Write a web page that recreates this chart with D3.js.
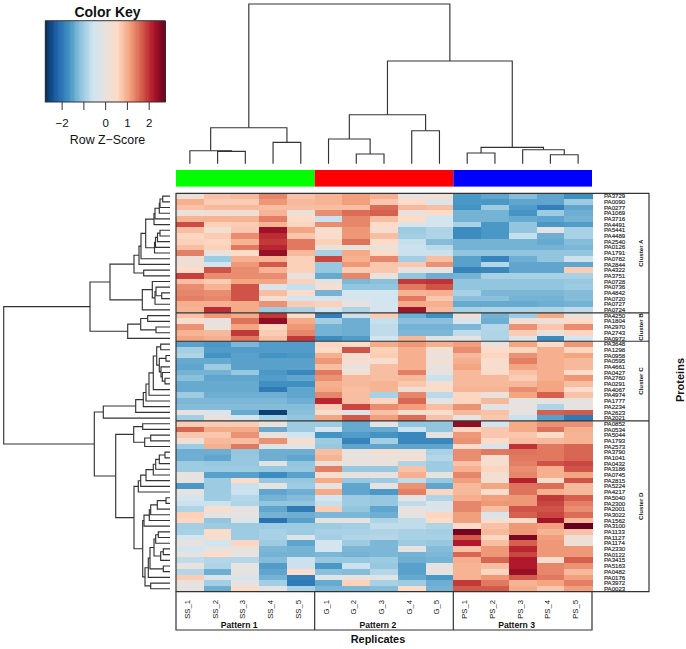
<!DOCTYPE html>
<html>
<head>
<meta charset="utf-8">
<script src="https://cdn.jsdelivr.net/npm/d3@7"></script>
<style>
  html, body { margin: 0; padding: 0; background: #fff; }
  svg { display: block; }
  text { font-family: "Liberation Sans", Arial, sans-serif; fill: #111; }
</style>
</head>
<body>
<div id="chart"></div>
<script>
// column labels and groups
const replicates = ['SS_1','SS_2','SS_3','SS_4','SS_5','G_1','G_2','G_3','G_4','G_5','PS_1','PS_2','PS_3','PS_4','PS_5'];
const patterns = ['Pattern 1', 'Pattern 2', 'Pattern 3'];
const patternColors = ['#00ff00', '#ff0000', '#0000ff'];

// protein labels per cluster
const proteinsA = ['PA3729','PA0090','PA0277','PA1069','PA3716','PA4491','PA5441','PA4489','PA2540','PA0126','PA1791','PA0782','PA2844','PA4322','PA3751','PA0728','PA0736','PA4842','PA0720','PA0727','PA0724'];
const proteinsB = ['PA4250','PA1804','PA2970','PA2743','PA0972'];
const proteinsC = ['PA3648','PA1298','PA0958','PA0595','PA4661','PA0427','PA2760','PA0291','PA4067','PA4974','PA1777','PA2234','PA2623','PA2021'];
const proteinsD = ['PA0852','PA0534','PA5044','PA1793','PA2573','PA3790','PA1041','PA0432','PA3186','PA0745','PA2815','PA5224','PA4217','PA5040','PA2300','PA2001','PA3022','PA1562','PA3100','PA1133','PA1127','PA1174','PA2330','PA0122','PA3415','PA5163','PA0482','PA0176','PA3972','PA0023'];
const clusterNames = ['Cluster A', 'Cluster B', 'Cluster C', 'Cluster D'];

// row z-scores
const valuesA = [
  [.2,.8,.9,1.35,.8,.95,1.15,1,0,.3,-1.6,-1.45,-1.2,-1.45,-1.7],
  [1,.7,.7,1.2,.9,.95,1.15,.75,.55,-.3,-1.6,-1.6,-1.45,-1.45,-1],
  [.8,.9,.9,.85,.85,.85,.85,1.55,.9,.85,-1.65,-1,-1.55,-1.9,-1.45],
  [.1,.2,.2,.95,.15,1.3,1.55,1.65,.05,.45,-1.3,-1.3,-1.65,-1,-1.35],
  [.95,.95,.95,1.4,.55,-.6,1.35,.85,.5,-.5,-1.3,-1.3,-1.4,-1.45,-1.3],
  [1.8,.65,.7,.95,.6,1.3,1.35,.55,-.35,-.45,-.9,-1.6,-1.1,-1.6,-1.55],
  [.85,.3,.75,2.35,1.1,.4,1.2,.35,-1,-.85,-1.75,-1.6,-1.1,-.1,-.9],
  [.6,.7,1.3,2.05,.75,.45,1.2,.85,-.95,-.85,-1.75,-1.6,-.65,-1.35,-.9],
  [.65,.6,.95,1.95,1.45,.65,1.5,.55,-.65,-1.2,-1.3,-1.3,-1.3,-1.4,-1.2],
  [.85,.65,1.45,2.1,1.45,.1,.1,.1,-.6,-.75,-1.3,-1.3,-1.3,-1.3,-1.25],
  [1.4,.05,.5,2.4,.9,-.9,1.05,.5,-.6,-.6,-1.1,-1.1,-1.1,-1.1,-1.1],
  [.2,-1,1,.95,.65,1.85,1,1.35,-.95,.85,-1.5,-1.85,-1.35,-1.1,-.6],
  [.2,-.55,1.2,1.7,.65,-1.05,1.2,.75,.75,1.25,-1.5,-.8,-1.45,-1.45,-1.45],
  [.5,1.75,1.3,.95,.65,-1.05,.7,.75,.05,.05,-1.85,-1.8,-1.45,-1.45,.7],
  [1.9,1.3,1.3,1.3,.05,-1.4,1.35,.1,-1.1,-1.35,-1.3,-.9,-.9,-.9,-.9],
  [.85,.7,1.1,1.1,.65,-.05,-1.25,-1.15,1.95,2,-1.1,-1.1,-1.1,-1.1,-1.05],
  [1.3,.95,1.75,-.25,-.65,.35,-1.1,-1.1,1.45,1.75,-1.1,-1.1,-1.1,-1.1,-1],
  [1.35,1.3,1.75,.85,.45,-1.3,-.5,-.5,.95,1,-.9,-1.25,-1.25,-1.25,-1.2],
  [1.4,1.35,1.75,.35,-.45,-.45,-.45,-.5,1.45,.75,-1.15,-1.15,-1.3,-1.3,-1.2],
  [1,1,1.05,1.25,.7,.65,.05,-.5,1.05,1,-1.4,-1.4,-1.4,-1.35,-1.3],
  [.95,2.05,1.05,-1,-.9,-.5,-.85,-.45,2.3,.9,-.9,-.85,-.85,-.85,-.7]
];
const valuesB = [
  [.8,1.2,1.05,1.95,.5,-1.9,-.6,.7,-1.35,-1.7,.2,-1.3,-1,1.05,.1],
  [.4,.05,1.5,2.45,1.05,-.95,-1.35,-.65,-1.15,-1.15,-.4,-1.35,.25,.2,.55],
  [1.25,.1,1.1,.6,1.2,-1.3,-1.35,-.7,-1.3,-1.3,-1.25,-.8,1.25,.75,1.3],
  [.95,.9,1.95,.7,1.35,-1.3,-1.35,-.7,-1.25,-1.25,-.7,-.85,.7,.1,.6],
  [1.1,1,1.45,.85,1.95,-1.75,-1.55,-.55,.9,-.2,-.1,-.85,-.2,-1.75,-.5]
];
const valuesC = [
  [-1.5,-1.6,-1.25,-1.55,-1.55,.6,.5,1.05,1.2,1,1.15,.05,1.1,.55,1.2],
  [-.95,-1.55,-1.55,-1.55,-1.55,.55,1.75,.65,1,.3,1.3,.55,.6,1,.6],
  [-.85,-1.65,-1.5,-1.65,-1.6,1,.35,.7,1,.05,.9,.6,1.25,1,1.1],
  [-1.4,-1.4,-1.5,-1.5,-1.5,1.2,.35,.4,1,.25,1,.4,1.4,1,.9],
  [-1.45,-1,-1.5,-1.5,-1.5,.85,.05,.85,1,.05,1.1,.4,1.1,1,.9],
  [-1.3,-1.3,-1.05,-1.6,-1.8,1.45,.3,.85,1.4,.05,.9,.5,.8,1,.5],
  [-1.15,-1.45,-1.45,-1.55,-1.45,1.25,.9,.85,.9,-.6,.9,.9,.7,1,1.2],
  [-1.4,-1.4,-1.4,-1.7,-1.7,1,.9,.95,.75,.4,.9,.9,.9,1.1,.85],
  [-1.4,-1.4,-1.4,-1.95,-1.45,1.05,.85,.95,.2,.5,.95,.95,1.3,1.1,.45],
  [-1,-1.35,-1.35,-1.35,-1.45,1.35,.85,-.9,1.35,-.75,.6,.1,1.1,1.65,.8],
  [-1.25,-1.25,-1.25,-1.25,-1.35,2.1,.85,.6,1.6,-.1,.6,.9,0,0,0],
  [-1.2,-1.2,-1.2,-1.2,-1.2,.7,1.85,1.3,1.15,.85,1.25,-.05,0,-.85,0],
  [0,-.3,-1.4,-2.6,-1.15,.35,-.3,.8,.35,.4,.9,.8,0,1.65,1.7],
  [-.95,.05,-.5,-.9,-1.1,1.1,1.7,1.15,1.55,.8,0,.75,-.6,-1.5,-1.95]
];
const valuesD = [
  [.7,.7,.7,.15,-1,-1,-1.4,-.1,-1.1,-1.1,2.45,-.55,1.05,1.25,1.25],
  [1.6,1.05,1.05,-1.4,-1,-.45,-1.4,-1.4,-.6,-1.1,.6,.75,1.05,1.5,1],
  [.75,.75,1.25,.1,-.55,-1.65,-1.55,-1.65,-1.8,-.05,1.2,.75,.75,.55,.95],
  [.2,.9,.85,1.25,.4,-1,-1.85,-.95,-1.8,-1.8,1.25,.55,.85,.9,.95],
  [-1,1,1.45,-.2,-.1,-1.05,-1.45,-1.45,-1.45,-1.45,.45,-.45,2,1.45,1.6],
  [-1.35,-1.35,-1.1,-1.35,-1.35,.85,.05,.3,.1,-.9,1.3,1.45,1.5,1.45,1.6],
  [-1.35,-1.45,-1.05,-1.35,-1.45,.95,.05,.1,.3,-.8,1.3,.35,1.45,1.45,1.6],
  [-1,-1.05,-1.05,-.2,-1.1,.2,.05,.1,-.85,-1,.8,.4,1.4,1.75,1.85],
  [-1,-1,-1,-1.05,-1.05,1.4,-1.05,-1.05,.8,-1,1,.6,1.3,1,1.75],
  [0,-1.5,-1.5,-1.75,-1.5,.5,0,0,1,0,1.35,.3,1.35,1,1.1],
  [0,-1,.5,-1.05,-1.05,1.05,-1.05,-1,-.7,-1.05,1.15,.3,2.15,.4,1.75],
  [-1.6,-1,-.6,0,-1,0,-1.45,0,1.25,-1.45,.9,1.1,1.5,1.55,.9],
  [0,-1,-.6,-1.45,-1.35,1.05,-1.45,-1.6,1.4,.6,.9,.45,1.5,1,.9],
  [-.45,-1,-.8,-1.3,-1.2,-.5,-1,-1.05,-.1,-.85,1,1.15,1.2,1.95,1.65],
  [-.6,-.6,-.85,-1.1,-1.1,-.65,-1,-1.05,-.7,-.35,1.35,1.2,1.2,1.85,1.4],
  [-.85,.4,0,-1.45,-1.95,.7,-1.1,-1.45,0,-.3,1.35,.85,1.75,1.75,1.3],
  [.65,0,0,-1.3,-1.35,-1.25,-1.25,-1.35,0,.6,1.15,-.3,1.65,1.85,1.55],
  [.6,-1.1,-.3,-2.05,-1.5,0,0,-.85,-.7,.55,1.15,.4,.5,2.3,.9],
  [-.95,-1,-1,-1,-1,-1,-.95,-.7,-.7,-.85,.5,.8,1.2,1.15,2.75],
  [-.9,.5,-1,-.9,-1,-.9,-.9,-.85,-.9,-.95,2.65,.9,1.2,.95,.8],
  [-.5,.4,-1,-.9,-.3,-.95,-.85,-.8,-.9,-.9,1.7,.6,2.6,1.15,.2],
  [.05,-.55,.6,-1,-1.45,-.5,-1,-1.25,-1,-1.05,2.2,.85,1.65,1.2,.2],
  [-.5,.05,.1,-1.25,-1.3,-.5,-1.25,-1.25,0,-1.2,.8,1.2,2.1,1.2,1.2],
  [0,.55,0,-1.3,-1.3,-1.25,-1.3,-1.25,-1.3,-1.25,1.6,1.2,1.85,1.2,1.2],
  [-.7,-.8,-.8,-1.2,-.6,-1.05,-1.05,-1,-1.35,-1.3,1,1.6,2.2,.4,1.65],
  [.05,-.85,0,-1.55,-.6,-1.6,-.6,-1.05,-1.5,0,.95,.85,2.2,1.35,1.25],
  [-.8,-1.35,0,-1.45,.45,-1.15,-1.2,-.8,-1.5,0,.95,.6,2.4,1.35,.9],
  [.7,-.35,-.4,-1.3,-1.9,-.2,.05,-.2,-1.4,-1.6,.95,1.2,1.7,1.45,1.15],
  [.05,-.95,-.1,-.95,-1.95,-1.4,.65,-.9,-1,-1.35,1.95,1.45,.95,1.1,1.4],
  [0,-1.35,.5,-.1,-.9,-1.25,-1.25,-1.2,.55,-1.3,1.7,1.7,1.05,.75,1.15]
];

// dendrograms as nested [height, left, right], a plain number is a leaf index
const colTree = [159.7,
  [36, [13, 0, [12.3, 1, 2]], [21.3, 3, 4]],
  [102.7,
    [49, [24.7, 5, [9.7, 6, 7]], [33, 8, 9]],
    [16.3, [10.7, 10, 11], [14, 12, [9, 13, 14]]]]];

const treeA1 = [36,
  [31, [29, [24.3,
    [16, [15, [10.7, [10, [7.3, 0, 1], 2], 3], 4], 5],
    [15.5, [14.5, [12.5, [10, 6, 7], 8], 9], 10]], 11], 12],
  [26.3, 13, 14]];
const treeA2 = [27.7, [17.7, 15, [15, [14, 16, [8.3, 17, 18]], 19]], 20];
const treeB = [42.3, [29.3, [22.3, 21, 22], [14, 23, 24]], 25];
const treeC = [66.7, [34.3, [26.7, [24, [21, [16.7, [13.3, [9.3, 26, 27],
  [10.7, [4, 28, 29], [9, 30, [7.7, 31, [5, 32, 33]]]]], 34], 35], 36], 37], 38], 39];
const treeD1 = [36.3, [27.3, 40, 41], [25.3, [19.3, 42, 43], 44]];
const treeD2 = [36,
  [31.7, [29.3, [24, [16.7, [14.3, [10.7, [5, 45, 46], 47], 48], 49], 50], 51], 52],
  [27.3,
    [26, [20.7, [19.3, [12.7, [4, 53, 54], 55], 56], 57], 58],
    [25, [21.7, [20, [16, [14.3, [11.7, 59, 60], 61], [9.3, [6.7, 62, 63], 64]], [6.7, 65, 66]], 67], [19.3, 68, 69]]]];
const rowTree = [166.3,
  [80, [60, treeA1, treeA2], treeB],
  [75.7, treeC, [54.3, treeD1, treeD2]]];

// colour key
const keyTicks = [-2, -1, 0, 1, 2];
const colorStops = [-2.75, -2.2, -1.65, -1.1, -.55, 0, .55, 1.1, 1.65, 2.2, 2.75];
const colorRange = ['#053061','#2166ac','#4393c3','#92c5de','#d1e5f0','#e6e2df','#fddbc7','#f4a582','#d6604d','#b2182b','#67001f'];

const proteins = [...proteinsA, ...proteinsB, ...proteinsC, ...proteinsD];
const matrix = [...valuesA, ...valuesB, ...valuesC, ...valuesD];
const clusterSizes = [proteinsA, proteinsB, proteinsC, proteinsD].map(d => d.length);

const chartWidth = 686, chartHeight = 649;
const hmLeft = 176, hmRight = 592, hmTop = 193.3, hmBottom = 591.6, boxRight = 649, boxBottom = 630;
const lineColor = '#333';

const svg = d3.select('#chart').append('svg')
  .attr('width', chartWidth)
  .attr('height', chartHeight);

const x = d3.scaleBand().domain(d3.range(replicates.length)).range([hmLeft, hmRight]);
const y = d3.scaleBand().domain(d3.range(proteins.length)).range([hmTop, hmBottom]);
const color = d3.scaleLinear().domain(colorStops).range(colorRange).clamp(true);

// heat cells
const rows = svg.append('g').attr('shape-rendering', 'crispEdges')
  .selectAll('g').data(matrix).enter().append('g');
rows.selectAll('rect')
  .data((d, i) => d.map((v, j) => ({ v, i, j })))
  .enter().append('rect')
  .attr('x', d => x(d.j))
  .attr('y', d => y(d.i))
  .attr('width', x.bandwidth() + .5)
  .attr('height', y.bandwidth() + .5)
  .attr('fill', d => color(d.v));

// side colour bar
const barGroups = d3.range(patterns.length);
svg.append('g').selectAll('rect').data(barGroups).enter().append('rect')
  .attr('x', d => x(d * 5))
  .attr('y', 170)
  .attr('width', x.bandwidth() * 5)
  .attr('height', 16.6)
  .attr('fill', d => patternColors[d]);

// draw a dendrogram, leafPos gives the leaf position, hScale maps merge height
function drawTree(tree, leafPos, hScale, horizontal) {
  const root = d3.hierarchy(tree, d => Array.isArray(d) ? d.slice(1) : null);
  root.eachAfter(n => {
    n.pos = n.children ? d3.mean(n.children, c => c.pos) : leafPos(n.data);
    n.h = n.children ? n.data[0] : 0;
  });
  const g = svg.append('g');
  g.selectAll('path')
    .data(root.descendants().filter(n => n.children))
    .enter().append('path')
    .attr('fill', 'none')
    .attr('stroke', lineColor)
    .attr('stroke-width', 1.15)
    .attr('d', n => {
      const [a, b] = n.children;
      return horizontal
        ? `M${hScale(a.h)},${a.pos}H${hScale(n.h)}V${b.pos}H${hScale(b.h)}`
        : `M${a.pos},${hScale(a.h)}V${hScale(n.h)}H${b.pos}V${hScale(b.h)}`;
    });
}

drawTree(colTree, i => x(i) + x.bandwidth() / 2,
  d3.scaleLinear().domain([0, 160]).range([163.7, 3.7]), false);
drawTree(rowTree, i => y(i) + y.bandwidth() / 2,
  d3.scaleLinear().domain([0, 170]).range([170, 0]), true);

// protein labels
svg.append('g').attr('opacity', .99).selectAll('text').data(proteins).enter().append('text')
  .attr('x', 604)
  .attr('y', (d, i) => y(i) + y.bandwidth() / 2)
  .attr('dy', '.35em')
  .style('font-size', '6.1px')
  .style('stroke', '#333')
  .style('stroke-width', .15)
  .text(d => d);

// cluster boxes and labels
const frame = svg.append('g').attr('stroke', lineColor).attr('stroke-width', 1.2).attr('fill', 'none');
frame.append('path').attr('d', `M${hmLeft},${hmTop}H${boxRight}V${hmBottom}H${hmLeft}Z`);

const clusterText = svg.append('g').attr('opacity', .99);
let start = 0;
clusterSizes.forEach((n, k) => {
  const y0 = y(start);
  const y1 = start + n < proteins.length ? y(start + n) : hmBottom;
  if (k > 0) frame.append('line').attr('x1', hmLeft).attr('x2', boxRight).attr('y1', y0).attr('y2', y0);
  clusterText.append('text')
    .attr('transform', `translate(642.8,${(y0 + y1) / 2}) rotate(-90)`)
    .attr('text-anchor', 'middle')
    .style('font-size', '6.2px')
    .style('font-weight', 'bold')
    .text(clusterNames[k]);
  start += n;
});

// replicate boxes and labels
frame.append('path').attr('d', `M${hmLeft},${hmBottom}V${boxBottom}H${hmRight}V${hmBottom}`);
[5, 10].forEach(c => {
  frame.append('line').attr('x1', x(c)).attr('x2', x(c)).attr('y1', hmBottom).attr('y2', boxBottom);
});

svg.append('g').attr('opacity', .99).selectAll('text').data(replicates).enter().append('text')
  .attr('transform', (d, i) => `translate(${x(i) + x.bandwidth() / 2},600) rotate(-90)`)
  .attr('text-anchor', 'end')
  .style('font-size', '7.7px')
  .text(d => d);

svg.append('g').selectAll('text').data(patterns).enter().append('text')
  .attr('x', (d, i) => x(i * 5) + x.bandwidth() * 2.28)
  .attr('y', 627.7)
  .attr('text-anchor', 'middle')
  .style('font-size', '8.6px')
  .style('font-weight', 'bold')
  .text(d => d);

// axis titles
svg.append('text')
  .attr('x', 378)
  .attr('y', 643)
  .attr('text-anchor', 'middle')
  .style('font-size', '10.9px')
  .style('font-weight', 'bold')
  .text('Replicates');

svg.append('text')
  .attr('opacity', .99)
  .attr('transform', 'translate(684,380) rotate(-90)')
  .attr('text-anchor', 'middle')
  .style('font-size', '11px')
  .style('font-weight', 'bold')
  .text('Proteins');

// colour key
const keyLeft = 45.3, keyRight = 165, keyTop = 20.7, keyBottom = 102;
const keyX = d3.scaleLinear().domain([-2.75, 2.75]).range([keyLeft, keyRight]);
const keyStep = 5.5 / 96;
svg.append('g').attr('shape-rendering', 'crispEdges')
  .selectAll('rect').data(d3.range(96)).enter().append('rect')
  .attr('x', d => keyX(-2.75 + d * keyStep))
  .attr('y', keyTop)
  .attr('width', keyX(keyStep) - keyX(0) + .5)
  .attr('height', keyBottom - keyTop)
  .attr('fill', d => color(-2.75 + (d + .5) * keyStep));
svg.append('rect')
  .attr('x', keyLeft).attr('y', keyTop)
  .attr('width', keyRight - keyLeft).attr('height', keyBottom - keyTop)
  .attr('fill', 'none').attr('stroke', lineColor).attr('stroke-width', 1);

const keyAxis = svg.append('g')
  .attr('transform', `translate(0,${keyBottom})`)
  .call(d3.axisBottom(keyX)
    .tickValues(keyTicks)
    .tickSize(8)
    .tickPadding(9)
    .tickFormat(d => d === -1 ? '' : d3.format('d')(d)));
keyAxis.select('.domain').remove();
keyAxis.selectAll('line').attr('stroke', lineColor);
keyAxis.selectAll('text')
  .style('font-size', '11.5px')
  .style('font-family', '"Liberation Sans", Arial, sans-serif')
  .attr('fill', '#111');

svg.append('text')
  .attr('x', 107.5)
  .attr('y', 17.3)
  .attr('text-anchor', 'middle')
  .style('font-size', '14px')
  .style('font-weight', 'bold')
  .text('Color Key');

svg.append('text')
  .attr('x', 107.5)
  .attr('y', 143.5)
  .attr('text-anchor', 'middle')
  .style('font-size', '12.4px')
  .text('Row Z\u2212Score');
</script>
</body>
</html>
